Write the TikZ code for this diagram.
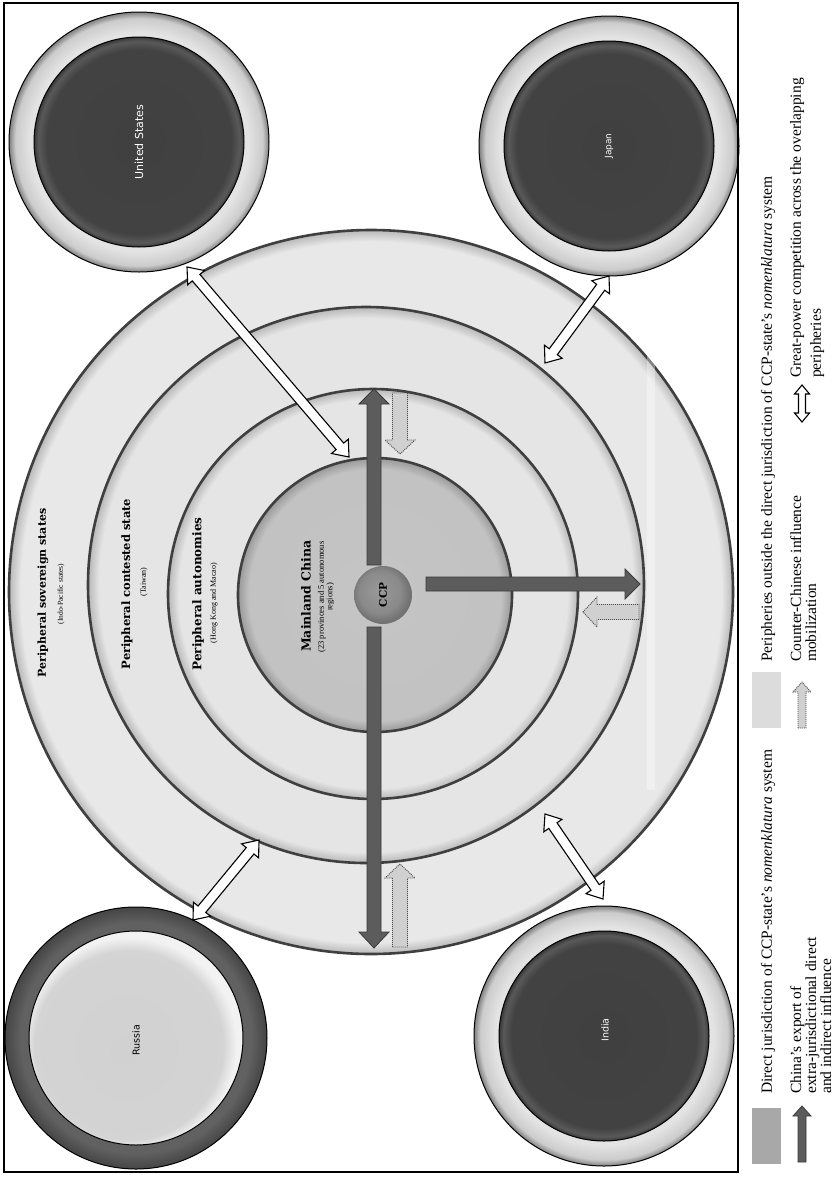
\documentclass[tikz,border=0pt]{standalone}
\usepackage{fontspec}
\setmainfont{Liberation Serif}
\newfontfamily\ringfont{DejaVu Serif}
\newfontfamily\ctyfont{DejaVu Sans}
\usetikzlibrary{calc}

\definecolor{ringline}{HTML}{3F3F3F}
\definecolor{darkarrow}{HTML}{5C5C5C}
\definecolor{darkarrowline}{HTML}{3A3A3A}
\definecolor{counterfill}{HTML}{D0D0D0}
\definecolor{legdark}{HTML}{A8A8A8}
\definecolor{leglight}{HTML}{DCDCDC}

\pgfdeclareradialshading{shOuter}{\pgfpoint{0bp}{0bp}}{rgb(0bp)=(0.91,0.91,0.91); rgb(24.2bp)=(0.91,0.91,0.91); rgb(25bp)=(0.72,0.72,0.72); rgb(50bp)=(0.72,0.72,0.72)}
\pgfdeclareradialshading{shContest}{\pgfpoint{0bp}{0bp}}{rgb(0bp)=(0.9,0.9,0.9); rgb(24.0bp)=(0.9,0.9,0.9); rgb(25bp)=(0.72,0.72,0.72); rgb(50bp)=(0.72,0.72,0.72)}
\pgfdeclareradialshading{shAuto}{\pgfpoint{0bp}{0bp}}{rgb(0bp)=(0.9,0.9,0.9); rgb(23.7bp)=(0.9,0.9,0.9); rgb(25bp)=(0.72,0.72,0.72); rgb(50bp)=(0.72,0.72,0.72)}
\pgfdeclareradialshading{shMain}{\pgfpoint{0bp}{0bp}}{rgb(0bp)=(0.77,0.77,0.77); rgb(23bp)=(0.76,0.76,0.76); rgb(25bp)=(0.6,0.6,0.6); rgb(50bp)=(0.6,0.6,0.6)}
\pgfdeclareradialshading{shCCP}{\pgfpoint{-4bp}{4bp}}{rgb(0bp)=(0.6,0.6,0.6); rgb(18bp)=(0.54,0.54,0.54); rgb(25bp)=(0.45,0.45,0.45); rgb(50bp)=(0.45,0.45,0.45)}
\pgfdeclareradialshading{shCtyOuter}{\pgfpoint{0bp}{0bp}}{rgb(0bp)=(0.89,0.89,0.89); rgb(21bp)=(0.89,0.89,0.89); rgb(23.8bp)=(0.8,0.8,0.8); rgb(25bp)=(0.5,0.5,0.5); rgb(50bp)=(0.5,0.5,0.5)}
\pgfdeclareradialshading{shCtyInner}{\pgfpoint{0bp}{0bp}}{rgb(0bp)=(0.25,0.25,0.25); rgb(22bp)=(0.26,0.26,0.26); rgb(24bp)=(0.35,0.35,0.35); rgb(25bp)=(0.22,0.22,0.22); rgb(50bp)=(0.22,0.22,0.22)}
\pgfdeclareradialshading{shRusOuter}{\pgfpoint{0bp}{0bp}}{rgb(0bp)=(0.38,0.38,0.38); rgb(22bp)=(0.38,0.38,0.38); rgb(25bp)=(0.27,0.27,0.27); rgb(50bp)=(0.27,0.27,0.27)}
\pgfdeclareradialshading{shRusInner}{\pgfpoint{-3bp}{-3bp}}{rgb(0bp)=(0.82,0.82,0.82); rgb(22bp)=(0.83,0.83,0.83); rgb(25bp)=(0.95,0.95,0.95); rgb(50bp)=(0.95,0.95,0.95)}

% block arrow, one head: style, from, to, shaft half width, head half width, head length
\newcommand{\onearrow}[6]{%
  \coordinate (ab) at ($(#3)!#6!(#2)$);
  \path[#1] ($(#2)!#4!90:(#3)$) -- ($(ab)!#4!-90:(#2)$) -- ($(ab)!#5!-90:(#2)$) -- (#3)
     -- ($(ab)!#5!90:(#2)$) -- ($(ab)!#4!90:(#2)$) -- ($(#2)!#4!-90:(#3)$) -- cycle;}
% block arrow, two heads
\newcommand{\twoarrow}[6]{%
  \coordinate (aa) at ($(#2)!#6!(#3)$);
  \coordinate (ab) at ($(#3)!#6!(#2)$);
  \path[#1] (#2) -- ($(aa)!#5!90:(#3)$) -- ($(aa)!#4!90:(#3)$) -- ($(ab)!#4!-90:(#2)$)
     -- ($(ab)!#5!-90:(#2)$) -- (#3) -- ($(ab)!#5!90:(#2)$) -- ($(ab)!#4!90:(#2)$)
     -- ($(aa)!#4!-90:(#3)$) -- ($(aa)!#5!-90:(#3)$) -- cycle;}

\begin{document}
\begin{tikzpicture}[x=1pt,y=-1pt,
  ringborder/.style={draw=ringline, line width=2.6pt},
  ctyborder/.style={draw=black, line width=1pt},
  exportarrow/.style={fill=darkarrow, draw=darkarrowline, line width=0.8pt},
  counterarrow/.style={fill=counterfill, draw=black!70, line width=0.9pt, dash pattern=on 1pt off 1pt},
  rivalarrow/.style={fill=white, draw=black, line width=1.1pt},
  ringlabel/.style={font=\ringfont\bfseries\fontsize{11}{13}\selectfont, inner sep=0pt, rotate=90},
  sublabel/.style={font=\fontsize{8}{9}\selectfont, inner sep=0pt, rotate=90, align=center},
  ctylabel/.style={font=\ctyfont\fontsize{9}{11}\selectfont, inner sep=0pt, rotate=90},
  legtext/.style={font=\fontsize{15.5}{15}\selectfont, inner sep=0pt, rotate=90, align=left},
  legbox/.style={inner sep=0pt, minimum width=29pt, minimum height=56pt}
]
\useasboundingbox (0,0) rectangle (838,1181);
\fill[white] (0,0) rectangle (838,1181);

% ---- concentric rings ----
\coordinate (c0) at (371,592);
\coordinate (c1) at (366,585);
\coordinate (c2) at (373,594);
\coordinate (c3) at (375,595);
\shade[shading=shOuter] (c0) circle (362pt);
\draw[ringborder] (c0) circle (362pt);
\fill[white, opacity=0.35] (647,262) rectangle (655,790);
\shade[shading=shContest] (c1) circle (278pt);
\draw[ringborder] (c1) circle (278pt);
\shade[shading=shAuto] (c2) circle (205pt);
\draw[ringborder] (c2) circle (205pt);
\shade[shading=shMain] (c3) circle (137pt);
\draw[ringborder] (c3) circle (137pt);

% ---- country discs ----
\coordinate (us) at (139,142);
\coordinate (jp) at (609,146);
\coordinate (ru) at (136,1038);
\coordinate (in) at (604,1036);
\foreach \c in {us,jp,in}{
  \shade[shading=shCtyOuter] (\c) circle (130pt);
  \draw[ctyborder] (\c) circle (130pt);
  \shade[shading=shCtyInner] (\c) circle (105pt);
  \draw[ctyborder] (\c) circle (105pt);
}
\shade[shading=shRusOuter] (ru) circle (131pt);
\draw[ctyborder] (ru) circle (131pt);
\shade[shading=shRusInner] (ru) circle (107pt);
\draw[ctyborder] (ru) circle (107pt);

\node[ctylabel, text=white, font=\ctyfont\fontsize{11}{13}\selectfont] (uslab) at (us) {United States};
\node[ctylabel, text=white, font=\ctyfont\fontsize{9}{11}\selectfont] (jplab) at (jp) {Japan};
\node[ctylabel, text=black, font=\ctyfont\fontsize{9.5}{11}\selectfont] (rulab) at (136,1040) {Russia};
\node[ctylabel, text=white, font=\ctyfont\fontsize{9.5}{11}\selectfont] (inlab) at (605,1030) {India};

% ---- CCP export arrows ----
\coordinate (upA) at (374,565);  \coordinate (upB) at (374,389);
\coordinate (dnA) at (374,627);  \coordinate (dnB) at (374,948);
\coordinate (rtA) at (426,584);  \coordinate (rtB) at (640,584);
\onearrow{exportarrow}{upA}{upB}{7pt}{15pt}{15pt}
\onearrow{exportarrow}{dnA}{dnB}{7pt}{15pt}{16pt}
\onearrow{exportarrow}{rtA}{rtB}{7pt}{15pt}{15pt}

% ---- counter-Chinese arrows ----
\coordinate (ctA) at (400,393);  \coordinate (ctB) at (400,454);
\coordinate (cbA) at (400,947);  \coordinate (cbB) at (400,864);
\coordinate (crA) at (639,612);  \coordinate (crB) at (583,612);
\onearrow{counterarrow}{ctA}{ctB}{7.5pt}{15pt}{14pt}
\onearrow{counterarrow}{cbA}{cbB}{7.5pt}{15pt}{14pt}
\onearrow{counterarrow}{crA}{crB}{7.5pt}{15pt}{14pt}

% ---- great-power arrows ----
\coordinate (usA) at (349,457);  \coordinate (usB) at (187,267);
\coordinate (jpA) at (545,363);  \coordinate (jpB) at (609,276);
\coordinate (ruA) at (259,840);  \coordinate (ruB) at (193,920);
\coordinate (inA) at (545,814);  \coordinate (inB) at (603,899);
\twoarrow{rivalarrow}{usA}{usB}{5pt}{11pt}{14pt}
\twoarrow{rivalarrow}{jpA}{jpB}{5pt}{11pt}{14pt}
\twoarrow{rivalarrow}{ruA}{ruB}{5pt}{11pt}{14pt}
\twoarrow{rivalarrow}{inA}{inB}{5pt}{11pt}{14pt}

% ---- CCP core ----
\shade[shading=shCCP] (383,595) circle (29pt);
\node[ringlabel, font=\ringfont\bfseries\fontsize{10.5}{12}\selectfont] (ccp) at (383,595) {CCP};

% ---- ring labels ----
\node[ringlabel] (psov) at (43,593) {Peripheral sovereign states};
\node[sublabel, font=\fontsize{7.5}{9}\selectfont] (psovs) at (61,594) {(Indo-Pacific states)};
\node[ringlabel, font=\ringfont\bfseries\fontsize{11.5}{13}\selectfont] (pcon) at (127,584) {Peripheral contested state};
\node[sublabel] (pcons) at (144,582) {(Taiwan)};
\node[ringlabel, font=\ringfont\bfseries\fontsize{12}{14}\selectfont] (paut) at (198,594) {Peripheral autonomies};
\node[sublabel] (pauts) at (214,603) {(Hong Kong and Macao)};
\node[ringlabel, font=\ringfont\bfseries\fontsize{12.5}{14}\selectfont] (main) at (306,596) {Mainland China};
\node[sublabel, font=\fontsize{8.5}{8.5}\selectfont] (mains) at (326,597) {(23 provinces and 5 autonomous\\regions)};

% ---- frame ----
\draw[line width=1.2pt] (4,3) rectangle (738,1172);

% ---- legend ----
\node[legbox, fill=legdark] (lr1) at (766,1136) {};
\node[legtext, anchor=west] (lt1) at (768,1094) {Direct jurisdiction of CCP-state’s \textit{nomenklatura} system};
\node[legbox, fill=leglight] (lr2) at (766,700) {};
\node[legtext, anchor=west] (lt2) at (768,662) {Peripheries outside the direct jurisdiction of CCP-state’s \textit{nomenklatura} system};

\coordinate (l1A) at (802,1162); \coordinate (l1B) at (802,1106);
\onearrow{exportarrow}{l1A}{l1B}{4pt}{9pt}{10pt}
\node[legtext, anchor=north west] (lt3) at (790,1094) {China’s export of\\extra-jurisdictional direct\\and indirect influence};
\coordinate (l2A) at (802,728); \coordinate (l2B) at (802,682);
\onearrow{counterarrow}{l2A}{l2B}{4pt}{9pt}{10pt}
\node[legtext, anchor=north west] (lt4) at (790,662) {Counter-Chinese influence\\mobilization};
\coordinate (l3A) at (802,422); \coordinate (l3B) at (802,385);
\twoarrow{rivalarrow}{l3A}{l3B}{3.5pt}{7.5pt}{9pt}
\node[legtext, anchor=north west] (lt5) at (790,378) {Great-power competition across the overlapping\\[5pt]peripheries};
\end{tikzpicture}
\end{document}
